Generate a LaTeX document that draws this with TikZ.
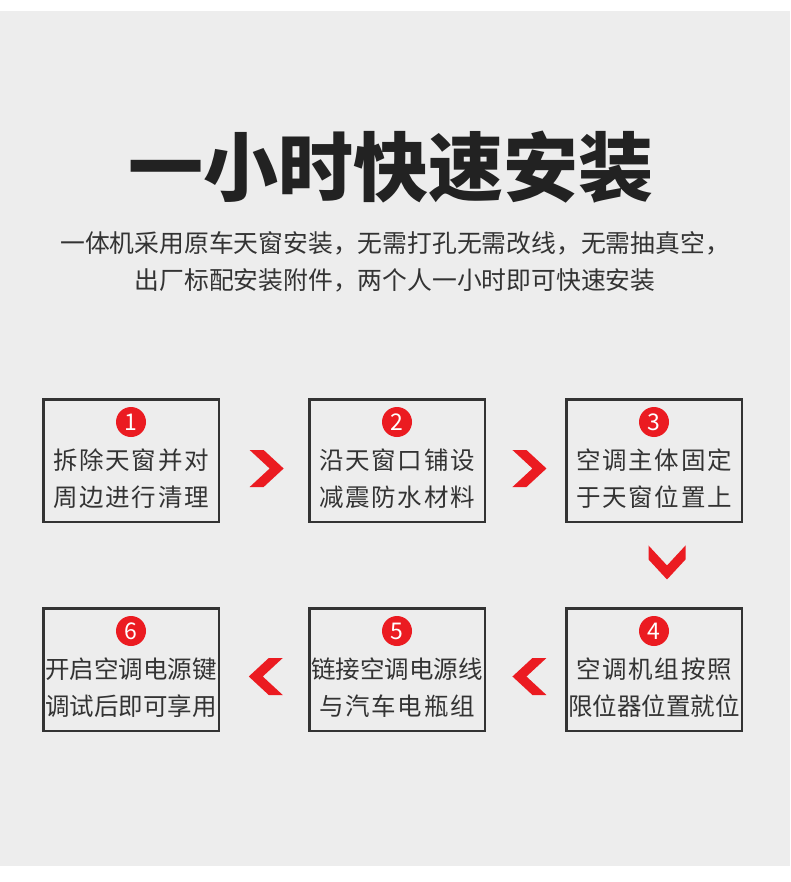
\documentclass[tikz,border=0pt]{standalone}
\usepackage{fontspec}
\usepackage{xcolor}
\usepackage{tikz}
\usetikzlibrary{positioning}

\newfontfamily\cjk{Noto Sans CJK SC}
\newfontfamily\cjkwide{Noto Sans CJK SC}[LetterSpace=7]
\definecolor{bggray}{HTML}{EDEDED}
\definecolor{stepred}{HTML}{EB1B21}
\definecolor{inkdark}{HTML}{333333}
\definecolor{titleink}{HTML}{222222}

\begin{document}
\begin{tikzpicture}[
    x=1pt, y=1pt,
    stepbox/.style={rectangle, draw=inkdark, line width=2.5pt, minimum width=175.5pt, minimum height=122.5pt, inner sep=0pt},
    badge/.style={circle, fill=stepred, text=white, minimum size=30pt, inner sep=0pt, font=\cjk\fontsize{23}{23}\selectfont},
    steptext/.style={align=center, text=inkdark, font=\cjk\fontsize{24.5}{37}\selectfont},
    chevron/.pic={\fill[stepred] (-17,18.5) -- (-3,18.5) -- (17,0) -- (-3,-18.5) -- (-17,-18.5) -- (3,0) -- cycle;}
]

\fill[white] (0,0) rectangle (790,-882);
\fill[bggray] (0,-11) rectangle (790,-866);

\node[font=\cjk\bfseries\fontsize{75}{75}\selectfont, text=titleink] (title) at (391,-167) {一小时快速安装};
\node[font=\cjk\fontsize{24.8}{37}\selectfont, text=inkdark, align=center] (intro) at (395,-261.5)
    {一体机采用原车天窗安装，无需打孔无需改线，无需抽真空，\\出厂标配安装附件，两个人一小时即可快速安装};

\node[stepbox] (s1) at (131,-460.5) {};
\node[stepbox, right=88pt of s1] (s2) {};
\node[stepbox, right=79pt of s2] (s3) {};
\node[stepbox, below=84pt of s3] (s4) {};
\node[stepbox, left=79pt of s4] (s5) {};
\node[stepbox, left=88pt of s5] (s6) {};

\node[badge] (n1) at ([yshift=-24pt]s1.north) {1};
\node[badge] (n2) at ([yshift=-24pt]s2.north) {2};
\node[badge] (n3) at ([yshift=-24pt]s3.north) {3};
\node[badge] (n4) at ([yshift=-24pt]s4.north) {4};
\node[badge] (n5) at ([yshift=-24pt]s5.north) {5};
\node[badge] (n6) at ([yshift=-24pt]s6.north) {6};

\node[steptext] (t1) at ([yshift=-18pt]s1.center) {{\cjkwide 拆除天窗并对}\\{\cjkwide 周边进行清理}};
\node[steptext] (t2) at ([yshift=-18pt]s2.center) {{\cjkwide 沿天窗口铺设}\\{\cjkwide 减震防水材料}};
\node[steptext] (t3) at ([yshift=-18pt]s3.center) {{\cjkwide 空调主体固定}\\{\cjkwide 于天窗位置上}};
\node[steptext] (t4) at ([yshift=-18pt]s4.center) {{\cjkwide 空调机组按照}\\限位器位置就位};
\node[steptext] (t5) at ([yshift=-18pt]s5.center) {链接空调电源线\\{\cjkwide 与汽车电瓶组}};
\node[steptext] (t6) at ([yshift=-18pt]s6.center) {开启空调电源键\\调试后即可享用};

\path ([yshift=-8pt]s1.east) -- ([yshift=-8pt]s2.west) coordinate[pos=0.53] (c12);
\path ([yshift=-8pt]s2.east) -- ([yshift=-8pt]s3.west) coordinate[pos=0.55] (c23);
\path ([xshift=13pt]s3.south) -- ([xshift=13pt]s4.north) coordinate[pos=0.47] (c34);
\path ([yshift=-7pt]s4.west) -- ([yshift=-7pt]s5.east) coordinate[pos=0.45] (c45);
\path ([yshift=-7pt]s5.west) -- ([yshift=-7pt]s6.east) coordinate[pos=0.48] (c56);

\pic at (c12) {chevron};
\pic at (c23) {chevron};
\pic[rotate=-90] at (c34) {chevron};
\pic[rotate=180] at (c45) {chevron};
\pic[rotate=180] at (c56) {chevron};

\end{tikzpicture}
\end{document}
